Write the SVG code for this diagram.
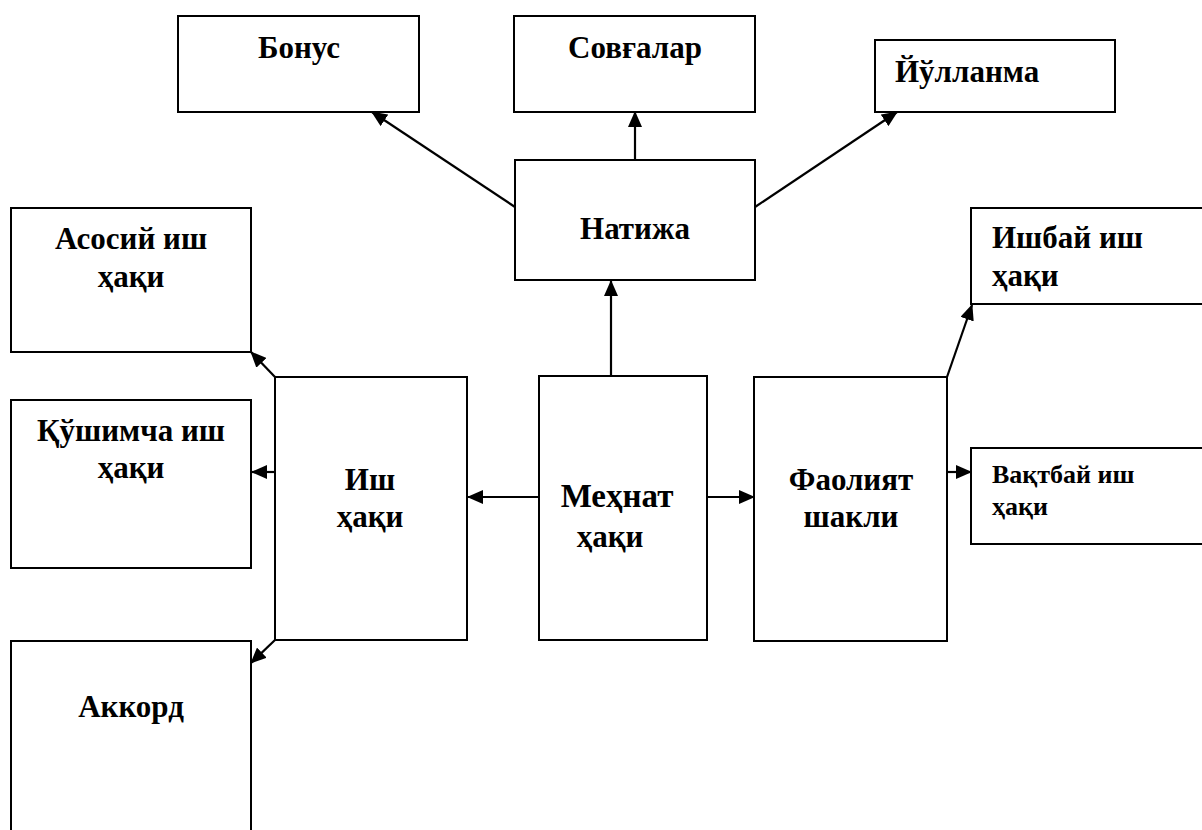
<svg xmlns="http://www.w3.org/2000/svg" width="1202" height="830" viewBox="0 0 1202 830">
<style>
.box{fill:#fff;stroke:#000;stroke-width:2}
.t{font-family:"Liberation Serif","Times New Roman",serif;font-weight:bold;font-size:31px;fill:#000}
.c{text-anchor:middle}
.s{font-size:26px}
.con{stroke:#000;stroke-width:2.2;fill:none;marker-end:url(#ah)}
</style>
<defs>
<marker id="ah" markerUnits="userSpaceOnUse" markerWidth="16" markerHeight="14" refX="15" refY="7" orient="auto">
<path d="M0,0 L16,7 L0,14 z" fill="#000"/>
</marker>
</defs>
<rect width="1202" height="830" fill="#fff"/>
<g id="connectors">
<line class="con" x1="515" y1="207" x2="372" y2="112"/>
<line class="con" x1="635" y1="160" x2="635" y2="112"/>
<line class="con" x1="755" y1="207" x2="897" y2="112"/>
<line class="con" x1="611" y1="376" x2="611" y2="281"/>
<line class="con" x1="539" y1="497" x2="468" y2="497"/>
<line class="con" x1="707" y1="497" x2="754" y2="497"/>
<line class="con" x1="275" y1="377" x2="251" y2="352"/>
<line class="con" x1="275" y1="472" x2="252" y2="472"/>
<line class="con" x1="275" y1="640" x2="251" y2="663"/>
<line class="con" x1="947" y1="377" x2="972" y2="305"/>
<line class="con" x1="947" y1="472" x2="971" y2="472"/>
</g>
<g id="bonus"><rect class="box" x="178" y="16" width="241" height="96"/><text class="t c" x="299" y="58">Бонус</text></g>
<g id="sovgalar"><rect class="box" x="514" y="16" width="241" height="96"/><text class="t c" x="635" y="58">Совғалар</text></g>
<g id="yullanma"><rect class="box" x="875" y="40" width="240" height="72"/><text class="t" x="895" y="82">Йўлланма</text></g>
<g id="natija"><rect class="box" x="515" y="160" width="240" height="120"/><text class="t c" x="635" y="239">Натижа</text></g>
<g id="asosiy"><rect class="box" x="11" y="208" width="240" height="144"/><text class="t c" x="131" y="249">Асосий иш</text><text class="t c" x="131" y="287">ҳақи</text></g>
<g id="qushimcha"><rect class="box" x="11" y="400" width="240" height="168"/><text class="t c" x="131" y="441">Қўшимча иш</text><text class="t c" x="131" y="478">ҳақи</text></g>
<g id="akkord"><rect class="box" x="11" y="641" width="240" height="200"/><text class="t c" x="131" y="717">Аккорд</text></g>
<g id="ish-haqi"><rect class="box" x="275" y="377" width="192" height="263"/><text class="t c" x="370" y="490">Иш</text><text class="t c" x="370" y="527">ҳақи</text></g>
<g id="mehnat-haqi"><rect class="box" x="539" y="376" width="168" height="264"/><text class="t c" x="617" y="507" style="font-size:33px">Меҳнат</text><text class="t c" x="610" y="547">ҳақи</text></g>
<g id="faoliyat"><rect class="box" x="754" y="377" width="193" height="264"/><text class="t c" x="851" y="490">Фаолият</text><text class="t c" x="851" y="527">шакли</text></g>
<g id="ishbay"><rect class="box" x="971" y="208" width="260" height="96"/><text class="t" x="992" y="248">Ишбай иш</text><text class="t" x="992" y="286">ҳақи</text></g>
<g id="vaqtbay"><rect class="box" x="971" y="448" width="260" height="96"/><text class="t s" x="992" y="483">Вақтбай иш</text><text class="t s" x="992" y="515">ҳақи</text></g>
</svg>
